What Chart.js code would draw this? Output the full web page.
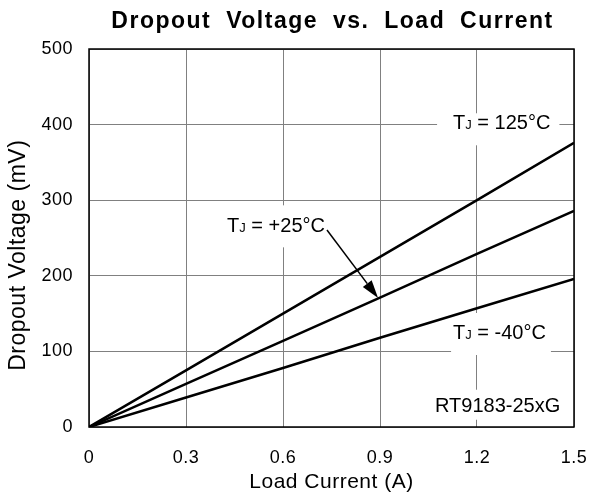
<!DOCTYPE html>
<html>
<head>
<meta charset="utf-8">
<script src="https://cdn.jsdelivr.net/npm/chart.js@4/dist/chart.umd.min.js"></script>
<style>
html,body{margin:0;padding:0;background:#fff;}
#wrap{width:589px;height:498px;position:relative;}
</style>
</head>
<body>
<div id="wrap"><canvas id="c" width="589" height="498"></canvas></div>
<script>
// ---- data ----
const loadCurrent = [0, 0.3, 0.6, 0.9, 1.2, 1.5];          // A
const dropout125 = [0, 75, 150, 225, 300, 376];            // mV, TJ = 125°C
const dropout25  = [0, 57, 114, 171, 229, 286];            // mV, TJ = +25°C
const dropoutM40 = [0, 39, 78, 118, 157, 196];             // mV, TJ = -40°C
const xTicks = [0, 0.3, 0.6, 0.9, 1.2, 1.5];
const xTickLabels = ['0', '0.3', '0.6', '0.9', '1.2', '1.5'];
const yTicks = [0, 100, 200, 300, 400, 500];
const yTickLabels = ['0', '100', '200', '300', '400', '500'];
const seriesLabels = ['125°C', '+25°C', '-40°C'];

const FONT = '"Liberation Sans", Arial, Helvetica, sans-serif';

function pts(vals){ return loadCurrent.map((x,i)=>({x:x, y:vals[i]})); }

// annotation labels (data-space anchors, baseline-left)
const notes = [
  {main:'T', sub:'J', rest:' = 125°C', x:1.126, y:393.8, box:[16,9,16,16]},
  {main:'T', sub:'J', rest:' = +25°C', x:0.427, y:257.5, box:[10,6,27,15]},
  {main:'T', sub:'J', rest:' = -40°C', x:1.126, y:116.4, box:[2,5,26,16]},
  {main:'RT9183-25xG', sub:'', rest:'', x:1.070, y:20.2, box:[5,5,22,8]}
];
const arrow = {from:{x:0.736, y:260.6}, to:{x:0.894, y:170.6}};

const decor = {
  id:'decor',
  beforeDraw(chart){
    chart.ctx.letterSpacing = '0.5px';
  },
  beforeDatasetsDraw(chart){
    const ctx = chart.ctx, xs = chart.scales.x, ys = chart.scales.y;
    ctx.save();
    ctx.letterSpacing = '0px';
    notes.forEach(n=>{
      const px = xs.getPixelForValue(n.x), py = ys.getPixelForValue(n.y);
      ctx.font = '20px ' + FONT;
      const w1 = ctx.measureText(n.main).width;
      ctx.font = '13px ' + FONT;
      const w2 = n.sub ? ctx.measureText(n.sub).width : 0;
      ctx.font = '20px ' + FONT;
      const w3 = n.rest ? ctx.measureText(n.rest).width : 0;
      const w = w1 + w2 + w3;
      ctx.fillStyle = '#ffffff';
      ctx.fillRect(px - n.box[0], py - n.box[2], w + n.box[0] + n.box[1], n.box[2] + n.box[3]);
      ctx.fillStyle = '#000000';
      ctx.textAlign = 'left';
      ctx.textBaseline = 'alphabetic';
      ctx.font = '20px ' + FONT;
      ctx.fillText(n.main, px, py);
      if (n.sub){ ctx.font = '13px ' + FONT; ctx.fillText(n.sub, px + w1, py); }
      if (n.rest){ ctx.font = '20px ' + FONT; ctx.fillText(n.rest, px + w1 + w2, py); }
    });
    ctx.restore();
  },
  afterDatasetsDraw(chart){
    const ctx = chart.ctx, xs = chart.scales.x, ys = chart.scales.y, a = chart.chartArea;
    ctx.save();
    // arrow
    const x0 = xs.getPixelForValue(arrow.from.x), y0 = ys.getPixelForValue(arrow.from.y);
    const x1 = xs.getPixelForValue(arrow.to.x), y1 = ys.getPixelForValue(arrow.to.y);
    const ang = Math.atan2(y1 - y0, x1 - x0);
    const hl = 18, hw = 5.5;
    const bx = x1 - hl*Math.cos(ang), by = y1 - hl*Math.sin(ang);
    ctx.strokeStyle = '#000'; ctx.lineWidth = 1.5;
    ctx.beginPath(); ctx.moveTo(x0, y0); ctx.lineTo(bx, by); ctx.stroke();
    ctx.fillStyle = '#000';
    ctx.beginPath();
    ctx.moveTo(x1, y1);
    ctx.lineTo(bx + hw*Math.sin(ang), by - hw*Math.cos(ang));
    ctx.lineTo(bx - hw*Math.sin(ang), by + hw*Math.cos(ang));
    ctx.closePath(); ctx.fill();
    // frame
    ctx.lineWidth = 1.5; ctx.strokeStyle = '#000';
    ctx.strokeRect(a.left, a.top, a.right - a.left, a.bottom - a.top);
    ctx.restore();
  },
  afterDraw(chart){
    const ctx = chart.ctx, a = chart.chartArea;
    ctx.save();
    ctx.font = 'bold 23px ' + FONT;
    ctx.letterSpacing = '1.5px';
    ctx.wordSpacing = '7px';
    ctx.fillStyle = '#000';
    ctx.textAlign = 'center';
    ctx.textBaseline = 'alphabetic';
    ctx.fillText('Dropout Voltage vs. Load Current', (a.left + a.right)/2 + 1, 27.5);
    ctx.restore();
  }
};

const lineStyle = {borderColor:'#000', borderWidth:2.5, pointRadius:0, fill:false, tension:0};

new Chart(document.getElementById('c'), {
  type:'line',
  data:{
    datasets:[
      Object.assign({label:seriesLabels[0], data:pts(dropout125)}, lineStyle),
      Object.assign({label:seriesLabels[1], data:pts(dropout25)}, lineStyle),
      Object.assign({label:seriesLabels[2], data:pts(dropoutM40)}, lineStyle)
    ]
  },
  options:{
    responsive:false,
    animation:false,
    devicePixelRatio:1,
    layout:{padding:{left:0, right:15, top:49, bottom:0}},
    plugins:{legend:{display:false}, title:{display:false}, tooltip:{enabled:false}},
    scales:{
      x:{
        type:'linear', min:0, max:1.5,
        afterBuildTicks(s){ s.ticks = xTicks.map(v=>({value:v})); },
        afterFit(s){ s.height = 71; },
        ticks:{color:'#000', padding:1, maxRotation:0, autoSkip:false,
               font:{family:FONT, size:18},
               callback:(v,i)=>xTickLabels[i]},
        grid:{color:'#808080', lineWidth:1, drawTicks:true, tickLength:19, tickColor:'rgba(0,0,0,0)'},
        border:{display:false},
        title:{display:true, text:'Load Current (A)', color:'#000',
               font:{family:FONT, size:21}, padding:{top:0, bottom:3.4}}
      },
      y:{
        type:'linear', min:0, max:500,
        afterBuildTicks(s){ s.ticks = yTicks.map(v=>({value:v})); },
        afterFit(s){ s.width = 89; },
        ticks:{color:'#000', padding:16, font:{family:FONT, size:18},
               callback:(v,i)=>yTickLabels[i]},
        grid:{color:'#808080', lineWidth:1, drawTicks:false},
        border:{display:false},
        title:{display:true, text:'Dropout Voltage (mV)     ', color:'#000',
               font:{family:FONT, size:23}, padding:{top:5, bottom:0}}
      }
    }
  },
  plugins:[decor]
});
</script>
</body>
</html>
